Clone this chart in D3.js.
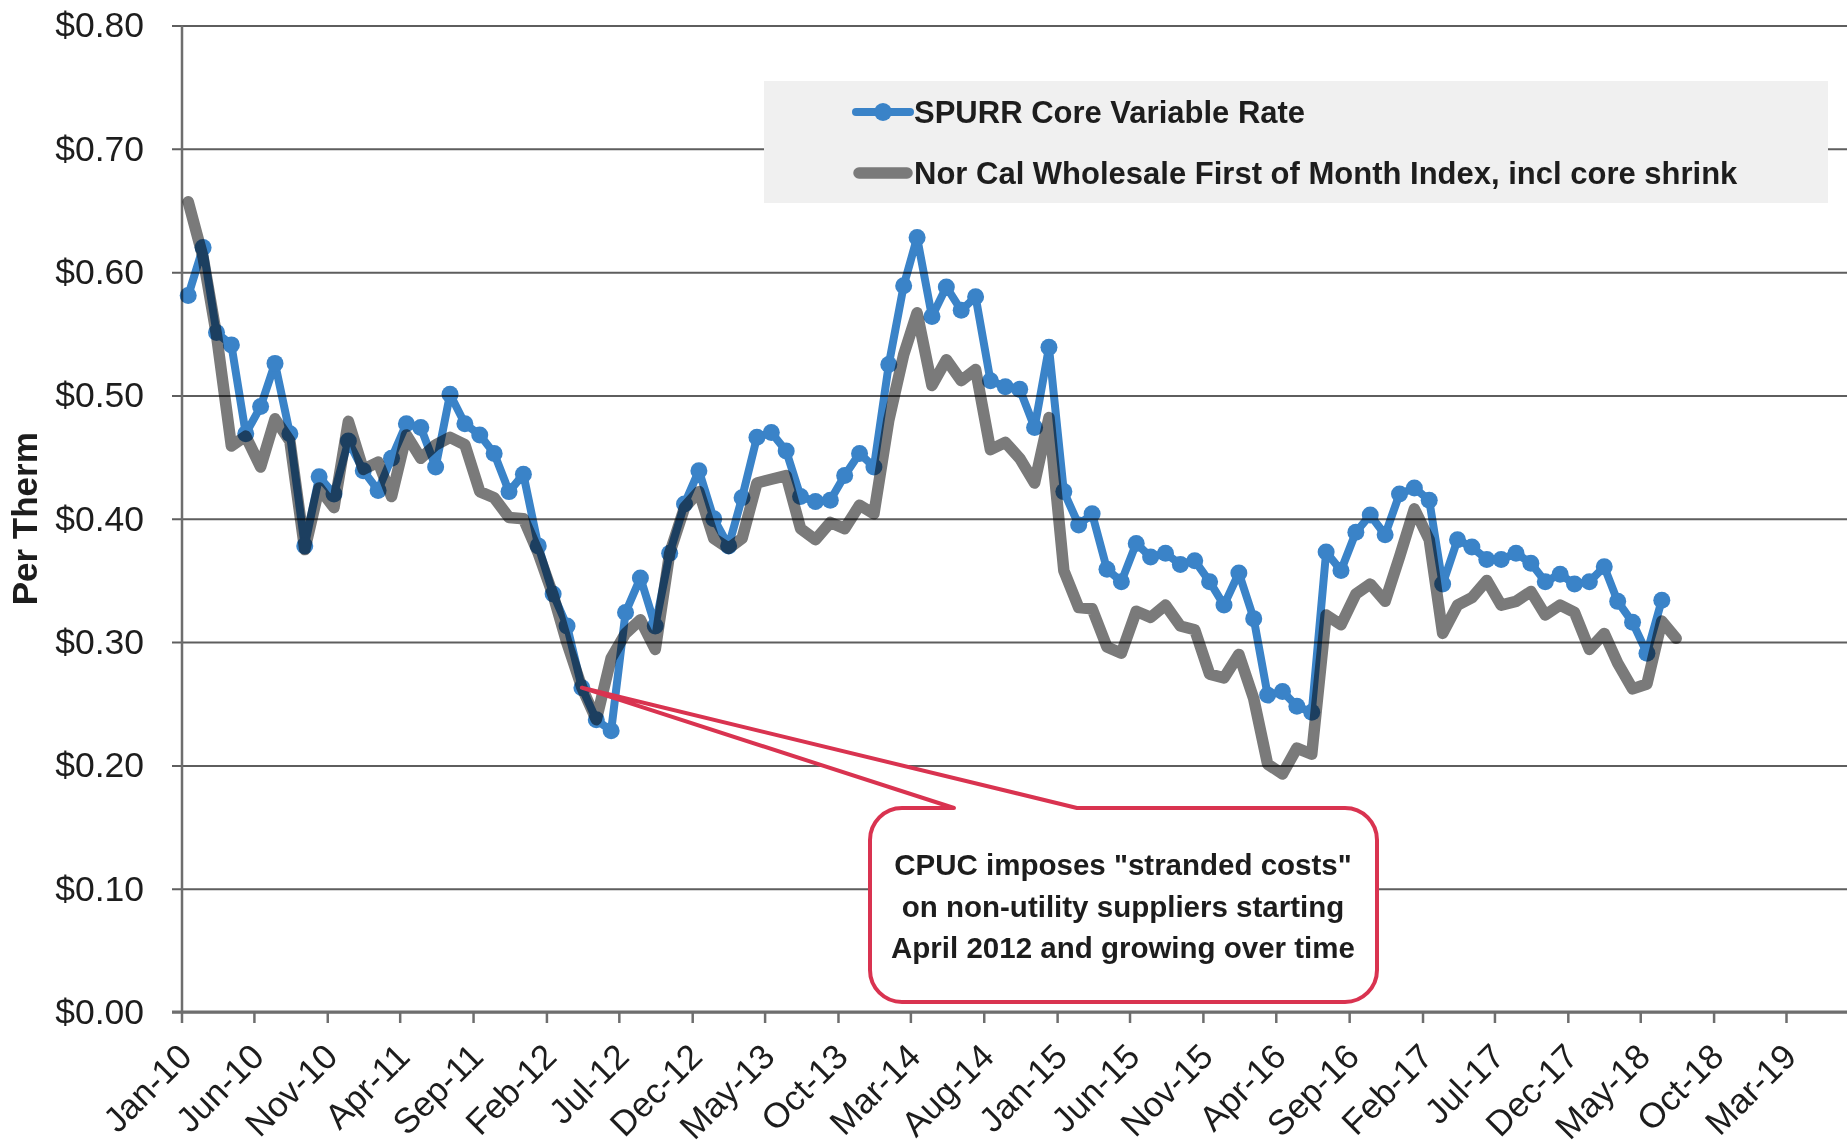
<!DOCTYPE html>
<html>
<head>
<meta charset="utf-8">
<script src="https://cdn.jsdelivr.net/npm/d3@7"></script>
<style>
  body { margin: 0; background: #fff; }
  text { font-family: "Liberation Sans", Arial, sans-serif; fill: #1d1d1d; }
</style>
</head>
<body>
<div id="chart"></div>
<script>
// SPURR core variable rate, $/therm, monthly from Jan-10
var spurr = [0.581, 0.620, 0.551, 0.541, 0.469, 0.491, 0.526, 0.469, 0.378, 0.434,
             0.420, 0.463, 0.439, 0.423, 0.449, 0.477, 0.474, 0.442, 0.501, 0.477,
             0.468, 0.453, 0.422, 0.436, 0.378, 0.339, 0.313, 0.263, 0.237, 0.228,
             0.324, 0.352, 0.313, 0.372, 0.412, 0.439, 0.400, 0.378, 0.417, 0.466,
             0.470, 0.455, 0.418, 0.414, 0.415, 0.435, 0.453, 0.442, 0.525, 0.589,
             0.628, 0.564, 0.588, 0.569, 0.580, 0.512, 0.507, 0.505, 0.474, 0.539,
             0.422, 0.395, 0.404, 0.359, 0.349, 0.380, 0.369, 0.372, 0.363, 0.366,
             0.349, 0.330, 0.356, 0.319, 0.257, 0.260, 0.248, 0.243, 0.373, 0.358,
             0.389, 0.403, 0.387, 0.420, 0.425, 0.415, 0.347, 0.383, 0.377, 0.367,
             0.367, 0.372, 0.364, 0.349, 0.355, 0.347, 0.349, 0.361, 0.333, 0.316,
             0.291, 0.334];

// Nor Cal wholesale first of month index incl core shrink
var norCal = [0.657, 0.612, 0.549, 0.459, 0.467, 0.442, 0.481, 0.463, 0.375, 0.425,
              0.409, 0.479, 0.440, 0.446, 0.418, 0.468, 0.449, 0.460, 0.466, 0.460,
              0.422, 0.417, 0.401, 0.400, 0.372, 0.338, 0.299, 0.263, 0.237, 0.287,
              0.307, 0.318, 0.294, 0.372, 0.409, 0.422, 0.384, 0.376, 0.384, 0.429,
              0.432, 0.435, 0.392, 0.383, 0.397, 0.392, 0.411, 0.404, 0.480, 0.533,
              0.567, 0.508, 0.529, 0.512, 0.521, 0.456, 0.462, 0.449, 0.429, 0.482,
              0.358, 0.328, 0.327, 0.296, 0.291, 0.325, 0.320, 0.330, 0.313, 0.310,
              0.274, 0.271, 0.290, 0.254, 0.201, 0.193, 0.214, 0.209, 0.322, 0.314,
              0.339, 0.347, 0.333, 0.369, 0.408, 0.383, 0.307, 0.330, 0.336, 0.350,
              0.330, 0.333, 0.341, 0.322, 0.330, 0.324, 0.294, 0.307, 0.283, 0.262,
              0.266, 0.317, 0.303];

var yTicks = [0, 0.1, 0.2, 0.3, 0.4, 0.5, 0.6, 0.7, 0.8];
var seriesNames = ["SPURR Core Variable Rate",
                   "Nor Cal Wholesale First of Month Index, incl core shrink"];
var noteLines = ['CPUC imposes "stranded costs"',
                 'on non-utility suppliers starting',
                 'April 2012 and growing over time'];
var noteIndex = 27; // Apr-12

var W = 1847, H = 1142;
var blue = "#3a83c8", grey = "#7a7a7a", red = "#d93350";

// monthly points sit mid-month
var months = d3.range(norCal.length).map(function (i) { return new Date(2010, i, 15); });
var xTicks = d3.timeMonth.range(new Date(2010, 0, 1), new Date(2019, 3, 1), 5);

var svg = d3.select("#chart").append("svg")
    .attr("width", W)
    .attr("height", H);

var x = d3.scaleTime()
    .domain([new Date(2010, 0, 1), new Date(2019, 2, 1)])
    .range([181.5, 1786]);

var y = d3.scaleLinear()
    .domain([0, 0.8])
    .range([1012, 25.5]);

// gridlines (extend left as tick marks)
svg.append("g")
    .attr("transform", "translate(172,0)")
    .call(d3.axisLeft(y).tickValues(yTicks).tickSize(-(W - 172)).tickFormat(""))
    .call(function (g) { g.select(".domain").remove(); })
    .selectAll("line")
    .attr("stroke", "#5e5e5e")
    .attr("stroke-width", 2);

// y labels
svg.append("g")
    .attr("transform", "translate(182,0)")
    .call(d3.axisLeft(y).tickValues(yTicks).tickSize(0).tickPadding(38)
        .tickFormat(d3.format("$.2f")))
    .call(function (g) { g.select(".domain").remove(); })
    .selectAll("text")
    .attr("font-size", 35.5)
    .attr("font-family", "Liberation Sans, Arial, sans-serif")
    .attr("fill", "#1d1d1d");

// y axis line
svg.append("line")
    .attr("x1", 182).attr("x2", 182)
    .attr("y1", y(0.8)).attr("y2", y(0))
    .attr("stroke", "#6e6e6e")
    .attr("stroke-width", 2.5);

// x axis
var xAxis = svg.append("g")
    .attr("transform", "translate(0," + y(0) + ")")
    .call(d3.axisBottom(x).tickValues(xTicks).tickSize(11)
        .tickFormat(d3.timeFormat("%b-%y")));
xAxis.select(".domain").remove();
xAxis.selectAll("line").attr("stroke", "#6e6e6e").attr("stroke-width", 2.5);
xAxis.selectAll("text")
    .attr("font-size", 35)
    .attr("font-family", "Liberation Sans, Arial, sans-serif")
    .attr("fill", "#1d1d1d")
    .attr("x", 0).attr("y", 0).attr("dy", "0.35em")
    .attr("text-anchor", "end")
    .attr("transform", "translate(3,38) rotate(-45)");

svg.append("line")
    .attr("x1", 172).attr("x2", W)
    .attr("y1", y(0)).attr("y2", y(0))
    .attr("stroke", "#6e6e6e")
    .attr("stroke-width", 3);

// axis title
svg.append("text")
    .attr("transform", "translate(37," + y(0.4) + ") rotate(-90)")
    .attr("text-anchor", "middle")
    .attr("font-size", 35)
    .attr("font-weight", "bold")
    .text("Per Therm");

// legend box (covers the $0.70 gridline)
svg.append("rect")
    .attr("x", 764).attr("y", 81)
    .attr("width", 1064).attr("height", 122)
    .attr("fill", "#f0f0f0");

// lines
var line = d3.line()
    .x(function (d, i) { return x(months[i]); })
    .y(function (d) { return y(d); });

var plot = svg.append("g");

plot.append("path")
    .datum(norCal)
    .attr("d", line)
    .attr("fill", "none")
    .attr("stroke", grey)
    .attr("stroke-width", 11.5)
    .attr("stroke-linejoin", "round")
    .attr("stroke-linecap", "round")
    .style("mix-blend-mode", "multiply");

var spurrG = plot.append("g").style("mix-blend-mode", "multiply");
spurrG.append("path")
    .datum(spurr)
    .attr("d", line)
    .attr("fill", "none")
    .attr("stroke", blue)
    .attr("stroke-width", 8)
    .attr("stroke-linejoin", "round");
spurrG.selectAll("circle")
    .data(spurr)
    .enter()
    .append("circle")
    .attr("cx", function (d, i) { return x(months[i]); })
    .attr("cy", function (d) { return y(d); })
    .attr("r", 8.5)
    .attr("fill", blue);

// legend entries
var leg = svg.append("g");
leg.append("line")
    .attr("x1", 856).attr("x2", 910).attr("y1", 112).attr("y2", 112)
    .attr("stroke", blue).attr("stroke-width", 8).attr("stroke-linecap", "round");
leg.append("circle").attr("cx", 883).attr("cy", 112).attr("r", 9).attr("fill", blue);
leg.append("line")
    .attr("x1", 859).attr("x2", 907).attr("y1", 173).attr("y2", 173)
    .attr("stroke", grey).attr("stroke-width", 11.5).attr("stroke-linecap", "round");
leg.selectAll("text")
    .data(seriesNames)
    .enter()
    .append("text")
    .attr("x", 914)
    .attr("y", function (d, i) { return 112 + i * 61; })
    .attr("dy", "0.35em")
    .attr("font-size", 31)
    .attr("font-weight", "bold")
    .text(function (d) { return d; });

// callout
var L = 870, T = 808, R = 1377, B = 1002, r = 32;
var tipX = x(months[noteIndex]), tipY = y(norCal[noteIndex]);
var callout = [
    "M", L + r, T, "L", 954, T, "L", tipX, tipY, "L", 1077, T,
    "L", R - r, T, "A", r, r, 0, 0, 1, R, T + r,
    "L", R, B - r, "A", r, r, 0, 0, 1, R - r, B,
    "L", L + r, B, "A", r, r, 0, 0, 1, L, B - r,
    "L", L, T + r, "A", r, r, 0, 0, 1, L + r, T, "Z"
].join(" ");
svg.append("path")
    .attr("d", callout)
    .attr("fill", "#fff")
    .attr("stroke", red)
    .attr("stroke-width", 4)
    .attr("stroke-linejoin", "round");

svg.append("g").selectAll("text")
    .data(noteLines)
    .enter()
    .append("text")
    .attr("x", 1123)
    .attr("y", function (d, i) { return 875 + i * 41.5; })
    .attr("text-anchor", "middle")
    .attr("font-size", 29.5)
    .attr("font-weight", "bold")
    .text(function (d) { return d; });
</script>
</body>
</html>
